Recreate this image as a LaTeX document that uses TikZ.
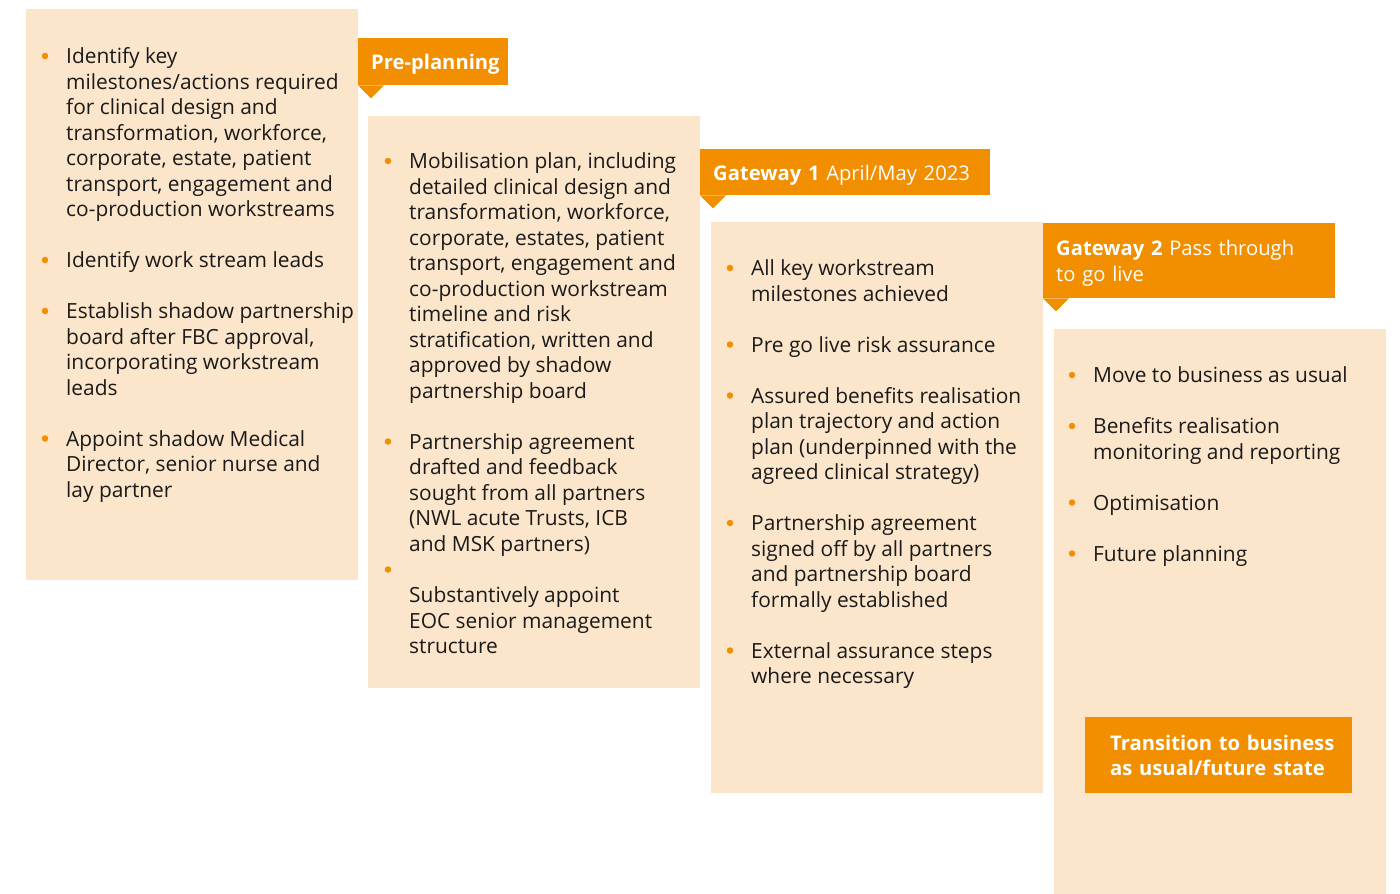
\documentclass[tikz,border=0pt]{standalone}
\usepackage{fontspec}
\setmainfont{Open Sans}
\definecolor{panelfill}{HTML}{FCE6CB}
\definecolor{accent}{HTML}{F18F00}
\definecolor{ink}{HTML}{1A1A1A}
\tikzset{
  panel/.style={fill=panelfill, draw=none, anchor=north west, inner sep=0pt},
  tab/.style={fill=accent, draw=none, anchor=north west, text=white, align=left,
    inner xsep=13pt, inner ysep=0pt, font=\fontsize{20.2}{25.5}\selectfont},
  txt/.style={anchor=base west, inner sep=0pt, text=ink, font=\fontsize{20.9}{25.5}\selectfont},
  dot/.style={circle, fill=accent, inner sep=0pt, minimum size=6.5pt}
}
% invisible strut that lowers a tab label a little inside its box
\newcommand{\tabstrut}{\rule{0pt}{20.5pt}}
% #1 name, #2 text x, #3 centre of line 0, #4 bullet line, #5 first text line, #6 lines
\newcommand{\listentry}[6]{%
  \node[dot] (#1-b) at (#2-21, #3+25.5*#4) {};
  \foreach \t [count=\k from #5] in {#6} {
    \node[txt] (#1-\k) at (#2, #3+7.5+25.5*\k) {\t};
  }%
}
\begin{document}
\begin{tikzpicture}[x=1pt, y=-1pt]
\useasboundingbox (0,0) rectangle (1400,894);

% stage panels
\node[panel, minimum width=332pt, minimum height=571pt] (p1) at (26,9) {};
\node[panel, minimum width=332pt, minimum height=572pt] (p2) at (368,116) {};
\node[panel, minimum width=332pt, minimum height=571pt] (p3) at (711,222) {};
\node[panel, minimum width=332pt, minimum height=565pt] (p4) at (1054,329) {};

% stage tabs with pointers
\node[tab, minimum width=150pt, minimum height=47pt, text width=124pt] (t1) at (358,38) {\mbox{\tabstrut\textbf{Pre-planning}}};
\fill[accent] (t1.south west) -- ++(26,0) -- ++(-13,13) -- cycle;
\node[tab, minimum width=290pt, minimum height=46pt, text width=264pt] (t2) at (700,149) {\mbox{\tabstrut\textbf{Gateway 1} April/May 2023}};
\fill[accent] (t2.south west) -- ++(26,0) -- ++(-13,13) -- cycle;
\node[tab, minimum width=292pt, minimum height=75pt, text width=266pt] (t3) at (1043,223) {\mbox{\tabstrut\textbf{Gateway 2} Pass through}\\to go live};
\fill[accent] (t3.south west) -- ++(26,0) -- ++(-13,13) -- cycle;
\node[tab, minimum width=267pt, minimum height=76pt, text width=217pt, inner xsep=25pt] (t4) at (1085,717) {\mbox{\textbf{Transition to business}}\\\mbox{\textbf{as usual/future state}}};

% panel 1
\listentry{a1}{66}{56}{0}{0}{Identify key, milestones/actions required, for clinical design and, {transformation, workforce,}, {corporate, estate, patient}, {transport, engagement and}, co-production workstreams}
\listentry{a2}{66}{56}{8}{8}{Identify work stream leads}
\listentry{a3}{66}{56}{10}{10}{Establish shadow partnership, {board after FBC approval,}, incorporating workstream, leads}
\listentry{a4}{66}{56}{15}{15}{Appoint shadow Medical, {Director, senior nurse and}, lay partner}

% panel 2
\listentry{b1}{409}{161}{0}{0}{{Mobilisation plan, including}, detailed clinical design and, {transformation, workforce,}, {corporate, estates, patient}, {transport, engagement and}, co-production workstream, timeline and risk, {stratification, written and}, approved by shadow, partnership board}
\listentry{b2}{409}{161}{11}{11}{Partnership agreement, drafted and feedback, sought from all partners, {(NWL acute Trusts, ICB}, and MSK partners)}
\listentry{b3}{409}{161.5}{16}{17}{Substantively appoint, EOC senior management, structure}

% panel 3
\listentry{c1}{751}{268}{0}{0}{All key workstream, milestones achieved}
\listentry{c2}{751}{268}{3}{3}{Pre go live risk assurance}
\listentry{c3}{751}{268}{5}{5}{Assured benefits realisation, plan trajectory and action, plan (underpinned with the, agreed clinical strategy)}
\listentry{c4}{751}{268}{10}{10}{Partnership agreement, signed off by all partners, and partnership board, formally established}
\listentry{c5}{751}{268}{15}{15}{External assurance steps, where necessary}

% panel 4
\listentry{d1}{1093}{375}{0}{0}{Move to business as usual}
\listentry{d2}{1093}{375}{2}{2}{Benefits realisation, monitoring and reporting}
\listentry{d3}{1093}{375}{5}{5}{Optimisation}
\listentry{d4}{1093}{375}{7}{7}{Future planning}
\end{tikzpicture}
\end{document}
